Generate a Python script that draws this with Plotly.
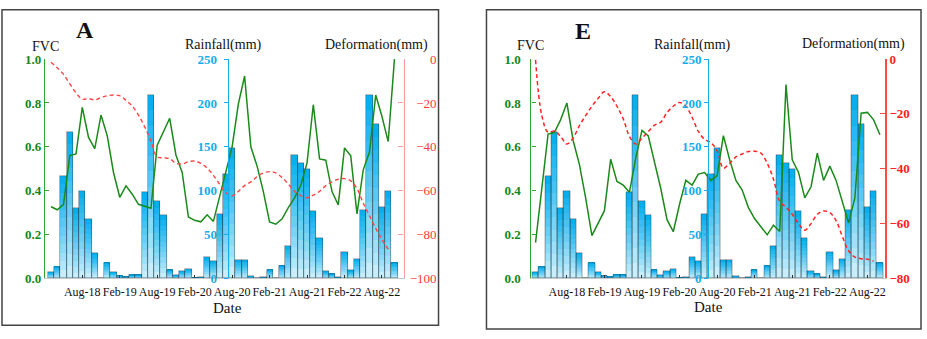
import plotly.graph_objects as go
import pandas as pd

# ---------------- data ----------------
months = pd.date_range("2018-03-01", periods=56, freq="MS").strftime("%b-%y").tolist()
tick_labels = ["Aug-18", "Feb-19", "Aug-19", "Feb-20", "Aug-20", "Feb-21", "Aug-21", "Feb-22", "Aug-22"]

rainfall = [7, 13.5, 117, 167, 80, 100, 68, 28.5, 0, 18, 7, 3, 2, 4, 4, 98, 209, 88, 72, 10,
            3.5, 8, 10.5, 0.8, 1.5, 24, 20, 73, 119, 149, 21, 21, 2.5, 0, 1, 10, 0, 14.5, 37, 141,
            131, 124.5, 76.5, 46, 8, 5, 1.5, 30, 9, 22.5, 78, 209, 176, 81.5, 100, 18]

fvc_A = [0.327, 0.313, 0.338, 0.56, 0.568, 0.78, 0.643, 0.592, 0.745, 0.65, 0.483, 0.37, 0.422, 0.384,
         0.338, 0.33, 0.32, 0.607, 0.67, 0.73, 0.563, 0.483, 0.28, 0.265, 0.258, 0.29, 0.26, 0.37,
         0.483, 0.6, 0.796, 0.923, 0.6, 0.512, 0.396, 0.258, 0.247, 0.272, 0.323, 0.367, 0.425, 0.527,
         0.792, 0.545, 0.539, 0.396, 0.335, 0.595, 0.559, 0.294, 0.495, 0.576, 0.836, 0.738, 0.624, 1.0]

deform_A = [-1.4, -4, -7, -11.3, -15.4, -18.3, -18, -18.6, -17.5, -16.7, -16.4, -16.7, -18.8, -21.4,
            -25.5, -30.9, -37.4, -44.6, -45, -45.4, -47.5, -47.8, -46.8, -46.5, -47.5, -49.7, -53, -57,
            -60.9, -62.3, -60.3, -57.7, -56, -53.6, -51.9, -51.3, -51.9, -54, -57, -60.3, -62.3, -63.2,
            -62, -60.3, -57.7, -56, -54.8, -54.5, -55.5, -59, -65.6, -71.4, -77.2, -82.3, -86.7]

fvc_E = [0.163, 0.41, 0.658, 0.665, 0.723, 0.8, 0.629, 0.52, 0.367, 0.195, 0.25, 0.309, 0.544, 0.442,
         0.425, 0.393, 0.549, 0.675, 0.65, 0.527, 0.41, 0.268, 0.213, 0.338, 0.447, 0.425, 0.476, 0.483,
         0.447, 0.469, 0.651, 0.541, 0.447, 0.403, 0.323, 0.272, 0.236, 0.199, 0.243, 0.214, 0.884, 0.541,
         0.483, 0.367, 0.418, 0.571, 0.447, 0.512, 0.447, 0.352, 0.253, 0.367, 0.753, 0.757, 0.723, 0.655]

deform_E = [-0.3, -20.6, -26.7, -26.2, -28.2, -31, -28.8, -24.3, -20.6, -17.2, -14.3, -11.9, -13.7, -17.2,
            -21.8, -28.2, -31, -28.8, -26.4, -24.1, -23, -19.5, -17.2, -15.8, -17.2, -21.2, -26.4, -29.3,
            -30.5, -33.4, -39.8, -38, -35.7, -34.6, -33.7, -33.6, -34.3, -38, -43.8, -51.9, -54, -56.6,
            -60, -62.4, -60, -56.6, -55.4, -56, -58.9, -64.7, -69.9, -72.2, -72.8, -73, -73.7]

fvc_ticks = [0, 0.2, 0.4, 0.6, 0.8, 1.0]
rain_ticks = [0, 50, 100, 150, 200, 250]
defA_ticks = [-100, -80, -60, -40, -20, 0]
defE_ticks = [-80, -60, -40, -20, 0]

# ---------------- style ----------------
W, H = 927, 339
SERIF = "Liberation Serif"
GREEN_LINE = "#1b8a1b"
GREEN_AX = "#2fa52f"
GREEN_TXT = "#11881a"
BLUE = "#16aee9"
N_SEG = 12
TOP = (0, 172, 238)
BOT = (214, 243, 253)


def px(x):
    return x / W


def py(y):
    return 1 - y / H


YD = [py(284), py(54.5)]

fig = go.Figure()


def add_bars(xa, ya):
    for k in range(N_SEG):
        t = ((k + 0.5) / N_SEG) ** 0.85
        col = "rgb(%d,%d,%d)" % tuple(round(BOT[j] + (TOP[j] - BOT[j]) * t) for j in range(3))
        fig.add_trace(go.Bar(
            x=months, y=[r / N_SEG for r in rainfall], base=[r * k / N_SEG for r in rainfall],
            marker=dict(color=col, line=dict(width=0)), xaxis=xa, yaxis=ya,
            showlegend=False, hoverinfo="skip"))
    fig.add_trace(go.Bar(
        x=months, y=rainfall, marker=dict(color="rgba(0,0,0,0)",
                                          line=dict(color="rgba(35,55,65,0.6)", width=0.7)),
        xaxis=xa, yaxis=ya, showlegend=False, hoverinfo="skip"))


# Panel A
add_bars("x", "y")
fig.add_trace(go.Scatter(x=months, y=fvc_A, mode="lines", line=dict(color=GREEN_LINE, width=1.5),
                         xaxis="x", yaxis="y2", showlegend=False))
fig.add_trace(go.Scatter(x=months[:len(deform_A)], y=deform_A, mode="lines",
                         line=dict(color="#ff4545", width=1.4, dash="4px,3px", shape="spline"),
                         xaxis="x", yaxis="y3", showlegend=False))
# same series, invisible, so that the right-aligned label axis of panel A is drawn
fig.add_trace(go.Scatter(x=months[:len(deform_A)], y=deform_A, mode="lines",
                         line=dict(color="rgba(0,0,0,0)", width=0), hoverinfo="skip",
                         xaxis="x", yaxis="y4", showlegend=False))
# Panel E
add_bars("x2", "y5")
fig.add_trace(go.Scatter(x=months, y=fvc_E, mode="lines", line=dict(color=GREEN_LINE, width=1.5),
                         xaxis="x2", yaxis="y6", showlegend=False))
fig.add_trace(go.Scatter(x=months[:len(deform_E)], y=deform_E, mode="lines",
                         line=dict(color="#ff2525", width=1.5, dash="4px,3px", shape="spline"),
                         xaxis="x2", yaxis="y7", showlegend=False))

common_x = dict(type="category", categoryorder="array", categoryarray=months,
                tickmode="array", tickvals=tick_labels, ticktext=tick_labels,
                ticks="inside", ticklen=3, tickcolor="#333", tickwidth=1,
                showline=True, linecolor="#c8c8c8", linewidth=1,
                showgrid=False, zeroline=False, ticklabelstandoff=2,
                tickfont=dict(family=SERIF, size=12, color="#111"))


def rain_axis(pos, standoff):
    return dict(domain=YD, range=[0, 250], anchor="free", position=pos, side="left",
                tickmode="array", tickvals=rain_ticks, ticks="outside", ticklen=4, tickcolor=BLUE,
                showline=True, linecolor=BLUE, linewidth=1.3, showgrid=False, zeroline=False,
                ticklabelstandoff=standoff,
                tickfont=dict(family=SERIF, size=13, color=BLUE, weight="bold"))


def fvc_axis(base, anchor, standoff):
    return dict(overlaying=base, anchor=anchor, side="left", range=[0, 1],
                tickmode="array", tickvals=fvc_ticks, tickformat=".1f",
                ticks="inside", ticklen=4, tickcolor=GREEN_AX,
                showline=True, linecolor=GREEN_AX, linewidth=1.3, showgrid=False, zeroline=False,
                ticklabelstandoff=standoff,
                tickfont=dict(family=SERIF, size=13, color=GREEN_TXT, weight="bold"))


fig.update_layout(
    width=W, height=H, margin=dict(l=0, r=0, t=0, b=0),
    paper_bgcolor="white", plot_bgcolor="rgba(0,0,0,0)",
    barmode="overlay", bargap=0, showlegend=False,
    font=dict(family=SERIF, color="#111"),
    xaxis=dict(common_x, domain=[px(45), px(404)], anchor="y", range=[-0.98, 56.46]),
    xaxis2=dict(common_x, domain=[px(532), px(886)], anchor="y5", range=[-0.66, 55.82]),
    yaxis=rain_axis(px(228), 4),
    yaxis2=fvc_axis("y", "x", 0),
    yaxis3=dict(overlaying="y", anchor="x", side="right", range=[-100, 0],
                tickmode="array", tickvals=defA_ticks, ticks="inside", ticklen=5,
                tickcolor="#ff9c9c", showline=True, linecolor="#ff9c9c", linewidth=1.3,
                showticklabels=False, showgrid=False, zeroline=False),
    yaxis4=dict(overlaying="y", anchor="free", position=px(437), side="left", range=[-100, 0],
                tickmode="array", tickvals=defA_ticks, ticks="", showline=False,
                showgrid=False, zeroline=False,
                tickfont=dict(family=SERIF, size=13, color="#ff3838")),
    yaxis5=rain_axis(px(709), 0),
    yaxis6=fvc_axis("y5", "x2", 7),
    yaxis7=dict(overlaying="y5", anchor="x2", side="right", range=[-80, 0],
                tickmode="array", tickvals=defE_ticks, ticks="inside", ticklen=5,
                tickcolor="#ff4848", showline=True, linecolor="#ff4848", linewidth=1.5,
                showgrid=False, zeroline=False, ticklabelstandoff=0,
                tickfont=dict(family=SERIF, size=13, color="#ff2020", weight="bold")),
)

# panel frames
for x0, x1, y0, y1 in [(2, 439, 3, 333), (487, 922, 3, 337)]:
    fig.add_shape(type="rect", xref="paper", yref="paper", x0=px(x0), x1=px(x1),
                  y0=py(y1), y1=py(y0), line=dict(color="#444", width=1.5))

texts = [
    ("A", 85.5, 24, 24, True), ("FVC", 46, 41, 14, False), ("Rainfall(mm)", 224, 40, 14, False),
    ("Deformation(mm)", 376.5, 40, 14, False), ("Date", 228, 315, 15, False),
    ("E", 584, 25, 24, True), ("FVC", 531.5, 40, 14, False), ("Rainfall(mm)", 693.5, 40, 14, False),
    ("Deformation(mm)", 854, 39, 14, False), ("Date", 709, 314, 15, False),
]
for t, x, y, s, b in texts:
    fig.add_annotation(text=t, x=px(x), y=py(y), xref="paper", yref="paper",
                       xanchor="center", yanchor="middle", showarrow=False,
                       font=dict(family=SERIF, size=s, color="#111", weight="bold" if b else "normal"))

fig.write_html("out.html", config={"displayModeBar": False},
               post_script="document.body.style.margin='0px';document.body.style.overflow='hidden';")
